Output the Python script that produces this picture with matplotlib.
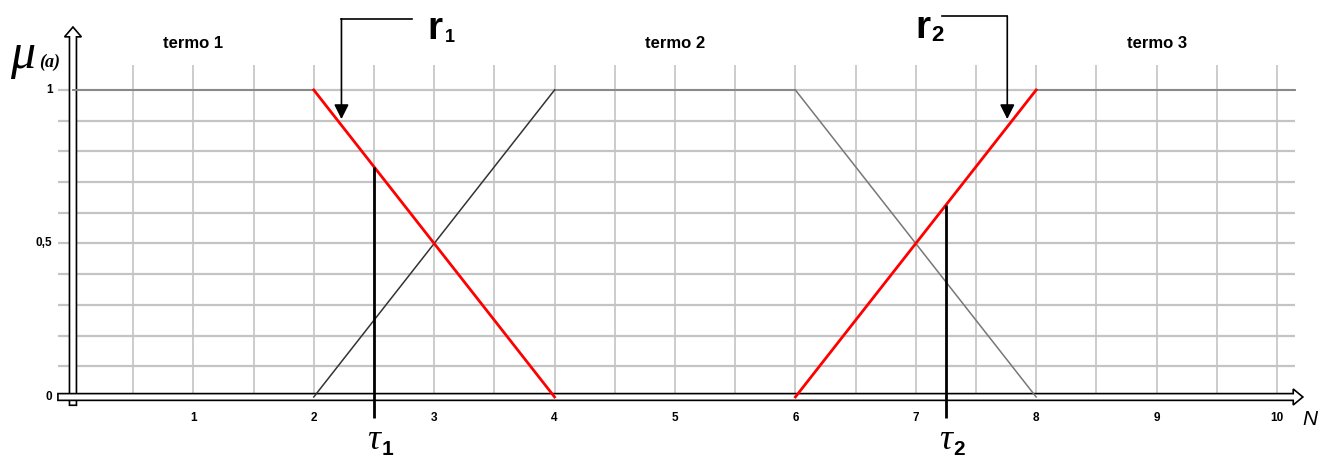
import numpy as np
import matplotlib
matplotlib.use("Agg")
import matplotlib.pyplot as plt
from matplotlib.patches import FancyArrow

# data
x_ticks = [1, 2, 3, 4, 5, 6, 7, 8, 9, 10]
y_ticks = [0, 0.5, 1]
y_labels = ["0", "0,5", "1"]

term1_x = [0, 2]
term1_y = [1, 1]
r1_x = [2, 4]
r1_y = [1, 0]
term2_up_x = [2, 4]
term2_up_y = [0, 1]
term2_top_x = [4, 6]
term2_top_y = [1, 1]
term2_down_x = [6, 8]
term2_down_y = [1, 0]
r2_x = [6, 8]
r2_y = [0, 1]
term3_x = [8, 10.15]
term3_y = [1, 1]

tau_x = [2.5, 7.25]
tau_top = [0.75, 0.625]
tau_names = ["1", "2"]

term_names = ["termo 1", "termo 2", "termo 3"]
term_pos = [1, 5, 9]

# r arrows: label corner x, elbow x, tip y
r_names = ["1", "2"]
r_tip_x = [2.23, 7.76]
r_tip_y = [0.905, 0.905]
r_corner_x = [2.82, 7.22]
r_bar_y = [1.232, 1.24]

fig = plt.figure(figsize=(13.32, 4.66), dpi=100)
ax = fig.add_axes([0, 0, 1, 1])
ax.set_xlim(-0.606, 10.457)
ax.set_ylim(-0.2248, 1.293)
ax.axis("off")

grid_c = "#c4c4c4"
# grid
gx = np.arange(0.5, 10.01, 0.5)
ax.vlines(gx, -0.01, 1.081, color=grid_c, lw=1.2, zorder=1)
gy = np.arange(0.1, 1.01, 0.1)
ax.hlines(gy, -0.125, 10.15, color=grid_c, lw=1.6, zorder=1)

# axes arrows (hollow)
ya = FancyArrow(0, -0.027, 0, 1.232, width=0.058, head_width=0.14,
                head_length=0.032, length_includes_head=True,
                fc="white", ec="black", lw=1.2, zorder=3)
ax.add_patch(ya)
xa = FancyArrow(-0.125, 0, 10.34, 0, width=0.022, head_width=0.052,
                head_length=0.08, length_includes_head=True,
                fc="white", ec="black", lw=1.2, zorder=4)
ax.add_patch(xa)

# membership functions
ax.plot(term1_x, term1_y, color="#888888", lw=1.4, zorder=5)
ax.plot(term2_top_x, term2_top_y, color="#888888", lw=1.4, zorder=5)
ax.plot(term3_x, term3_y, color="#888888", lw=1.4, zorder=5)
ax.plot(term2_up_x, term2_up_y, color="#333333", lw=1.1, zorder=5)
ax.plot(term2_down_x, term2_down_y, color="#777777", lw=1.1, zorder=5)
ax.plot(r1_x, r1_y, color="#ff0000", lw=2.0, zorder=6)
ax.plot(r2_x, r2_y, color="#ff0000", lw=2.0, zorder=6)

# tau lines
ax.vlines(tau_x, -0.07, tau_top, color="black", lw=2.0, zorder=7)
for tx, tn in zip(tau_x, tau_names):
    ax.text(tx, -0.17, "τ", family="Liberation Serif", style="italic",
            fontsize=26, ha="center", va="baseline", zorder=8)
    ax.text(tx + 0.06, -0.19, tn, family="Liberation Sans", weight="bold",
            fontsize=15, ha="left", va="baseline", zorder=8)

# tick labels
for xv in x_ticks:
    ax.text(xv, -0.068, str(xv), family="Liberation Sans", weight="bold",
            fontsize=8.5, ha="center", va="center")
for yv, yl in zip(y_ticks, y_labels):
    ax.text(-0.17, yv, yl, family="Liberation Sans", weight="bold",
            fontsize=8.5, ha="right", va="center")

# term labels
for tp, tn in zip(term_pos, term_names):
    ax.text(tp, 1.152, tn, family="Liberation Sans", weight="bold",
            fontsize=12, ha="center", va="center")

# r arrows
for i in range(2):
    ax.plot([r_corner_x[i], r_tip_x[i]], [r_bar_y[i], r_bar_y[i]],
            color="black", lw=1.2, zorder=8)
    ax.annotate("", xy=(r_tip_x[i], r_tip_y[i]),
                xytext=(r_tip_x[i], r_bar_y[i]),
                arrowprops=dict(arrowstyle="-|>", color="black", lw=1.2,
                                mutation_scale=22, shrinkA=0, shrinkB=0),
                zorder=8)
ax.text(2.94, 1.165, "r", family="Liberation Sans", weight="bold",
        fontsize=28, ha="left", va="baseline")
ax.text(3.09, 1.155, r_names[0], family="Liberation Sans", weight="bold",
        fontsize=13, ha="left", va="baseline")
ax.text(7.0, 1.17, "r", family="Liberation Sans", weight="bold",
        fontsize=28, ha="left", va="baseline")
ax.text(7.13, 1.16, r_names[1], family="Liberation Sans", weight="bold",
        fontsize=16, ha="left", va="baseline")

# axis names
ax.text(-0.42, 1.07, "μ", family="Liberation Serif", style="italic",
        fontsize=36, ha="center", va="baseline")
ax.text(-0.19, 1.075, "(a)", family="Liberation Serif", style="italic",
        weight="bold", fontsize=13, ha="center", va="baseline")
ax.text(10.27, -0.09, "N", family="Liberation Sans", style="italic",
        fontsize=15, ha="center", va="baseline")

fig.savefig("out.png", dpi=100)
